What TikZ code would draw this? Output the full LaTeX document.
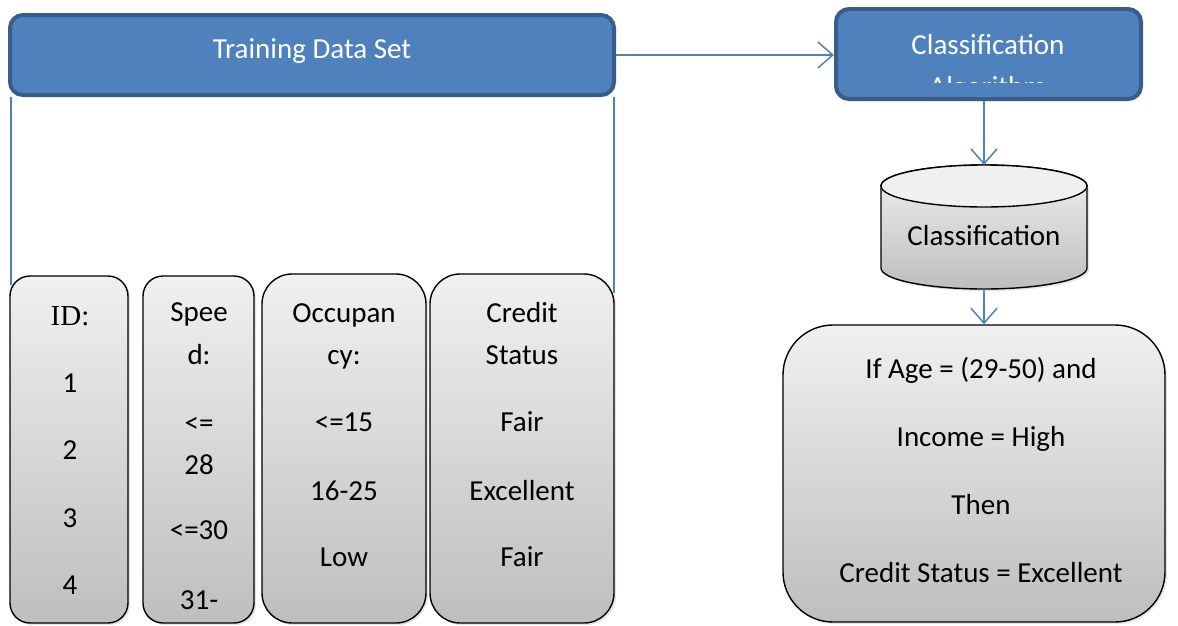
\documentclass[tikz,border=0pt]{standalone}
\usepackage{fontspec}
\setmainfont{Carlito}
\newfontfamily\serifid{Liberation Serif}
\usetikzlibrary{arrows.meta,shadows}
\definecolor{boxblue}{HTML}{4F81BD}
\definecolor{boxedge}{HTML}{385D8A}
\definecolor{gtop}{HTML}{F0F0F0}
\definecolor{gbot}{HTML}{BEBEBE}
\tikzset{
  txt/.style={font=\fontsize{29}{35}\selectfont, inner sep=0pt, anchor=base},
  wtxt/.style={txt, text=white},
  bluebox/.style={draw=boxedge, line width=4pt, fill=boxblue, rounded corners=13pt,
     inner sep=0pt, drop shadow={opacity=0.25, shadow xshift=1.5pt, shadow yshift=-2pt}},
  colbox/.style={draw=black, line width=1.4pt, top color=gtop, bottom color=gbot,
     inner sep=0pt, drop shadow={opacity=0.2, shadow xshift=2pt, shadow yshift=-2pt}},
  conn/.style={draw=boxblue, line width=1.5pt},
  arr/.style={conn, -{Straight Barb[length=15pt,width=26pt]}},
}
\begin{document}
\begin{tikzpicture}[x=1pt,y=-1pt]
\useasboundingbox (0,0) rectangle (1178,625);
\fill[white] (0,0) rectangle (1178,625);

% columns
\node[colbox, rounded corners=20pt, minimum width=118pt, minimum height=347pt] (id) at (69,449.5) {};
\node[colbox, rounded corners=20pt, minimum width=111pt, minimum height=347pt] (speed) at (198.5,449.5) {};
\node[colbox, rounded corners=30pt, minimum width=164pt, minimum height=349pt] (occ) at (344,448.5) {};
\node[colbox, rounded corners=30pt, minimum width=184pt, minimum height=349pt] (cred) at (522,448.5) {};

% training data set box
\node[bluebox, minimum width=604pt, minimum height=80pt] (train) at (312,55) {};
\node[wtxt] (traint) at (312,58) {Training Data Set};

% side lines of training box
\coordinate (lend) at (11,285);
\coordinate (rend) at (614,293);
\draw[conn] (lend |- train.south) -- (lend);
\draw[conn] (rend |- train.south) -- (rend);

% classification algorithm box
\node[bluebox, minimum width=305pt, minimum height=90pt] (alg) at (988.5,54) {};
\node[wtxt] (algt1) at (988,54) {Classification};
\begin{scope}
  \clip (836,9) rectangle (1141,82);
  \node[wtxt] (algt2) at (988,96) {Algorithm};
\end{scope}

% arrow train -> alg
\draw[arr] (train.east |- 0,55) -- (alg.west |- 0,55);

% cylinder
\coordinate (cyltop) at (984,165);
\coordinate (cylbot) at (984,289);
\fill[black, opacity=0.1] (883,188) -- (883,270)
   arc[start angle=180,end angle=0,x radius=103,y radius=21] -- (1089,188) -- cycle;
\path[top color=gtop, bottom color=gbot, draw=black, line width=1.4pt]
  (881,186) -- (881,268)
  arc[start angle=180,end angle=0,x radius=103,y radius=21]
  -- (1087,186)
  arc[start angle=0,end angle=-180,x radius=103,y radius=21] -- cycle;
\draw[black, line width=1.4pt, fill=gtop] (984,186) ellipse[x radius=103, y radius=21];
\node[txt] (cylt) at (984,245) {Classification};

% rule box
\node[colbox, rounded corners=50pt, minimum width=382pt, minimum height=297pt] (rule) at (974,473.5) {};
\node[txt] (r1) at (981,378) {If Age = (29-50) and};
\node[txt] (r2) at (981,446) {Income = High};
\node[txt] (r3) at (981,514) {Then};
\node[txt] (r4) at (981,582) {Credit Status = Excellent};

% arrows down
\draw[arr] (alg.south -| cyltop) -- (cyltop);
\draw[arr] (cylbot) -- (rule.north -| cylbot);

% column texts
\node[txt, font=\serifid\fontsize{29}{35}\selectfont] (id0) at (70,325) {ID:};
\node[txt] (id1) at (70,392) {1};
\node[txt] (id2) at (70,459) {2};
\node[txt] (id3) at (70,527) {3};
\node[txt] (id4) at (70,594) {4};

\node[txt] (sp0) at (199,321) {Spee};
\node[txt] (sp1) at (199,364) {d:};
\node[txt] (sp2) at (199,432) {<=};
\node[txt] (sp3) at (199,474) {28};
\node[txt] (sp4) at (199,539) {<=30};
\node[txt] (sp5) at (199,609) {31-};

\node[txt] (oc0) at (344,322) {Occupan};
\node[txt] (oc1) at (344,364) {cy:};
\node[txt] (oc2) at (344,431) {<=15};
\node[txt] (oc3) at (344,500) {16-25};
\node[txt] (oc4) at (344,566) {Low};

\node[txt] (cr0) at (522,322) {Credit};
\node[txt] (cr1) at (522,364) {Status};
\node[txt] (cr2) at (522,431) {Fair};
\node[txt] (cr3) at (522,500) {Excellent};
\node[txt] (cr4) at (522,566) {Fair};
\end{tikzpicture}
\end{document}
